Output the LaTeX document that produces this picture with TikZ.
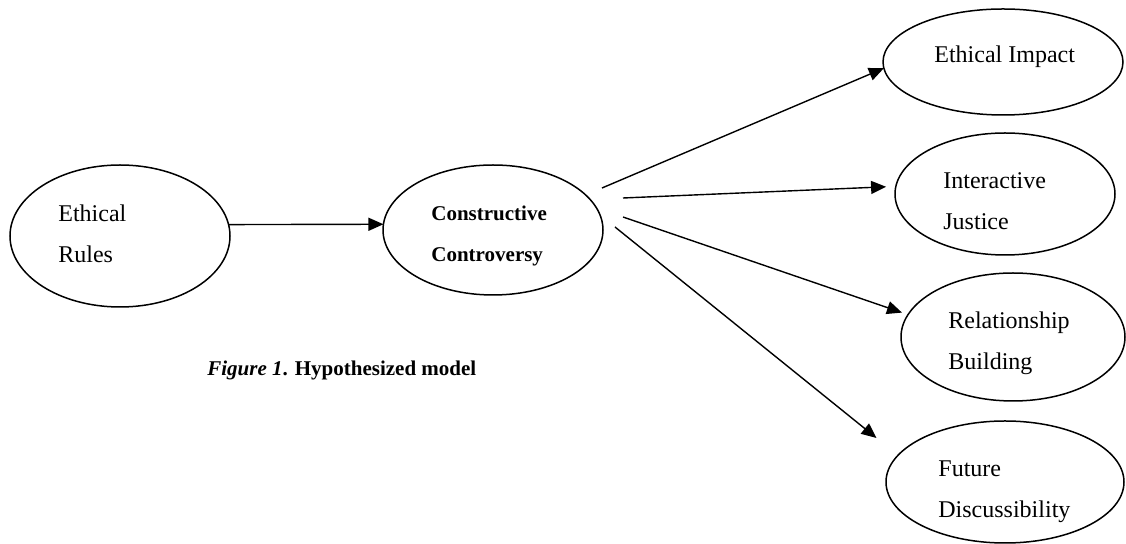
\documentclass[tikz,border=0pt]{standalone}
\usepackage{fontspec}
\setmainfont{Liberation Serif}
\usetikzlibrary{arrows.meta,shapes.geometric}

\begin{document}
\begin{tikzpicture}[x=0.5pt,y=-0.5pt,
  oval/.style 2 args={ellipse,draw,line width=0.75pt,inner sep=0pt,outer sep=0pt,minimum width=#1,minimum height=#2},
  lbl/.style={anchor=base west,inner sep=0pt,align=left,font=\fontsize{12}{20.5}\selectfont},
  link/.style={line width=0.7pt,-{Triangle[length=7.5pt,width=6.5pt]}}]
\useasboundingbox (0,0) rectangle (1126,544);
% ---- left part (labels sit on the baseline of their last line)
\node[oval={110pt}{71pt}] (er) at (120,236) {};
\node[lbl] (erT) at (58,263) {Ethical\\Rules};
\node[oval={110pt}{65pt}] (cc) at (493,230) {};
\node[lbl,font=\fontsize{10.5}{20.5}\selectfont\bfseries] (ccT) at (431,262) {Constructive\\Controversy};
\draw[link] (er.6) -- (cc.177);
\node[anchor=base west,inner sep=0pt,font=\fontsize{10.5}{12}\selectfont\bfseries] (cap) at (207,376) {\textit{Figure 1}. Hypothesized model};
% ---- outcomes on the right
\node[oval={120pt}{53pt}] (ei) at (1003,62) {};
\node[lbl] (eiT) at (934,63) {Ethical Impact};
\node[oval={110pt}{61pt}] (ij) at (1005,194) {};
\node[lbl] (ijT) at (943,230) {Interactive\\Justice};
\node[oval={112pt}{64pt}] (rb) at (1013,337) {};
\node[lbl] (rbT) at (948,370) {Relationship\\Building};
\node[oval={119pt}{61pt}] (fd) at (1005,482) {};
\node[lbl] (fdT) at (938,518) {Future\\Discussibility};
% ---- paths out of cc (they start a little off its border)
\coordinate (out1) at (602,188);
\coordinate (out2) at (623,198);
\coordinate (out3) at (623,217);
\coordinate (out4) at (615,227);
\draw[link] (out1) -- (ei.183);
\draw[link,shorten >=4.9pt] (out2) -- (ij.176);
\draw[link,shorten >=3.2pt] (out3) -- (rb.168);
\draw[link,shorten >=13.8pt] (out4) -- (fd.166);
\end{tikzpicture}
\end{document}
